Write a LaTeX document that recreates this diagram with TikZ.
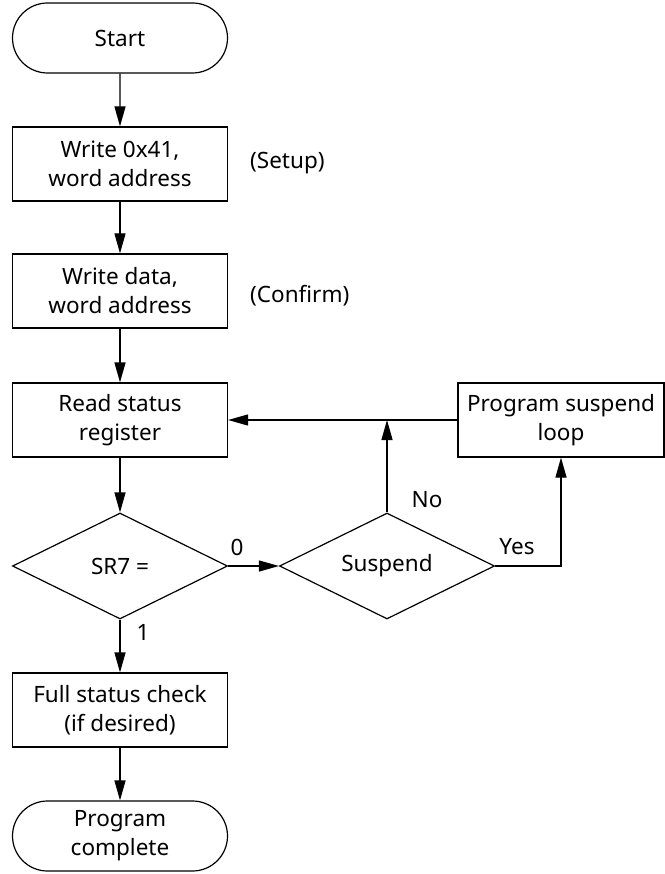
\documentclass[tikz,border=0pt]{standalone}
\usepackage{fontspec}
\setmainfont{Noto Sans}
\usetikzlibrary{shapes.misc,shapes.geometric,arrows.meta}
\begin{document}
\begin{tikzpicture}[x=1pt,y=-1pt,
  every node/.style={font=\fontsize{22.5}{29}\selectfont, align=center},
  term/.style={draw, line width=1.2pt, rounded rectangle, minimum width=215pt, minimum height=70pt, inner sep=0pt},
  proc/.style={draw, line width=1.2pt, rectangle, minimum width=215pt, minimum height=74pt, inner sep=0pt},
  dec/.style={draw, line width=1.2pt, diamond, minimum width=215pt, minimum height=106pt, inner sep=0pt, aspect=2},
  lbl/.style={inner sep=0pt},
  flow/.style={line width=1.2pt, -{Triangle[length=20pt,width=11pt]}}]
\useasboundingbox (0,0) rectangle (664,874);
\node[term] (start) at (120,38) {Start};
\node[proc] (w1) at (120,164) {Write 0x41,\\word address};
\node[proc] (w2) at (120,291) {Write data,\\word address};
\node[proc] (rs) at (120,420) {Read status\\register};
\node[dec] (sr7) at (120,566) {SR7 =};
\node[dec] (sus) at (387,566) {Suspend};
\node[proc, minimum width=206pt] (psl) at (561,420) {Program suspend\\loop};
\node[proc] (fsc) at (120,710) {Full status check\\(if desired)};
\node[term] (done) at (120,836) {Program\\complete};
\node[lbl, anchor=west] (setup) at (250,163) {(Setup)};
\node[lbl, anchor=west] (confirm) at (250,296) {(Confirm)};
\node[lbl] (zero) at (237,547) {0};
\node[lbl] (one) at (143,632) {1};
\node[lbl] (no) at (427,500) {No};
\node[lbl] (yes) at (517,547) {Yes};
\coordinate (j) at (sus.north |- rs.east);
\draw[flow] (start) -- (w1);
\draw[flow] (w1) -- (w2);
\draw[flow] (w2) -- (rs);
\draw[flow] (rs) -- (sr7);
\draw[flow] (sr7.south) -- (fsc.north);
\draw[flow] (fsc) -- (done);
\draw[flow] (sr7.east) -- (sus.west);
\draw[flow] (sus.north) -- (j);
\draw[flow] (psl.west) -- (rs.east);
\draw[flow] (sus.east) -| (psl.south);
\end{tikzpicture}
\end{document}
